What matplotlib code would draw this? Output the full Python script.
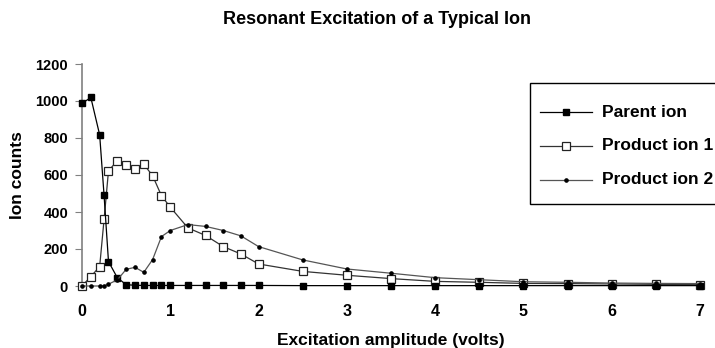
import matplotlib
matplotlib.use("Agg")
import matplotlib.pyplot as plt
from matplotlib.patches import Rectangle
from matplotlib.lines import Line2D

plt.rcParams['font.family'] = ['Liberation Sans', 'DejaVu Sans']
plt.rcParams['font.weight'] = 'bold'

# excitation amplitude (volts)
volts = [0, 0.1, 0.2, 0.25, 0.3, 0.4, 0.5, 0.6, 0.7, 0.8, 0.9, 1.0,
         1.2, 1.4, 1.6, 1.8, 2.0, 2.5, 3.0, 3.5, 4.0, 4.5, 5.0, 5.5,
         6.0, 6.5, 7.0]

parent_ion = [987, 1019, 817, 490, 132, 45, 7, 4, 3, 3, 3, 3,
              3, 3, 3, 3, 3, 2, 2, 2, 2, 2, 2, 2,
              2, 2, 2]

product_ion_1 = [0, 51, 105, 360, 622, 678, 652, 632, 658, 596, 488, 426,
                 314, 273, 213, 173, 119, 79, 58, 40, 25, 20, 14, 13,
                 11, 9, 7]

product_ion_2 = [0, 0, 0, 0, 10, 33, 90, 101, 74, 143, 267, 300,
                 332, 322, 300, 271, 213, 141, 92, 69, 45, 34, 23, 20,
                 16, 14, 13]

series_names = ['Parent ion', 'Product ion 1', 'Product ion 2']
y_ticks = [0, 200, 400, 600, 800, 1000, 1200]
x_ticks = [0, 1, 2, 3, 4, 5, 6, 7]

W, H = 715, 348
fig = plt.figure(figsize=(W / 100, H / 100), dpi=100)
ax = fig.add_axes([82 / W, 62 / H, 618 / W, 222 / H])

styles = [
    dict(color='black', lw=0.9, marker='s', ms=3.8, mfc='black', mec='black'),
    dict(color='#333333', lw=0.9, marker='s', ms=5.2, mfc='white',
         mec='#222222', mew=0.9),
    dict(color='#555555', lw=0.9, marker='o', ms=2.3, mfc='black', mec='black'),
]
zorders = [4, 3, 5]

for vals, st, z in zip([parent_ion, product_ion_1, product_ion_2], styles, zorders):
    ax.plot(volts, vals, clip_on=False, zorder=z, **st)

ax.set_xlim(0, 7)
ax.set_ylim(0, 1200)
ax.set_xticks(x_ticks)
ax.set_yticks(y_ticks)

for s in ['top', 'right', 'bottom']:
    ax.spines[s].set_visible(False)
ax.spines['left'].set_color('#808080')
ax.spines['left'].set_linewidth(1.2)

ax.tick_params(axis='y', direction='out', length=5, color='#808080',
               labelsize=10.5, pad=5)
ax.tick_params(axis='x', length=0, labelsize=11.5, pad=13)
for lbl in ax.get_xticklabels() + ax.get_yticklabels():
    lbl.set_fontweight('bold')

fig.text(391 / W, 1 - 340 / H, 'Excitation amplitude (volts)',
         ha='center', va='center', fontsize=12.5, fontweight='bold')
fig.text(18 / W, 1 - 175 / H, 'Ion counts', rotation=90,
         ha='center', va='center', fontsize=12.5, fontweight='bold')
fig.text(377 / W, 1 - 20 / H, 'Resonant Excitation of a Typical Ion',
         ha='center', va='center', fontsize=13, fontweight='bold')

# legend box, running past the right edge like the original
fig.patches.append(Rectangle((530 / W, 1 - 204 / H), 220 / W, 121 / H,
                             transform=fig.transFigure, fill=True,
                             facecolor='white', edgecolor='black', lw=1.0,
                             zorder=6))
row_y = [112, 146, 180]
for name, st, ry in zip(series_names, styles, row_y):
    yf = 1 - ry / H
    line_st = {k: v for k, v in st.items() if k != 'marker'}
    fig.lines.append(Line2D([540 / W, 592 / W], [yf, yf],
                            transform=fig.transFigure, zorder=7,
                            linestyle='-', marker=None, **line_st))
    fig.lines.append(Line2D([566 / W], [yf], transform=fig.transFigure,
                            zorder=8, linestyle='none', **st))
    fig.text(602 / W, yf, name, ha='left', va='center', fontsize=12.5,
             fontweight='bold', zorder=9)

fig.savefig('out.png', dpi=100)
